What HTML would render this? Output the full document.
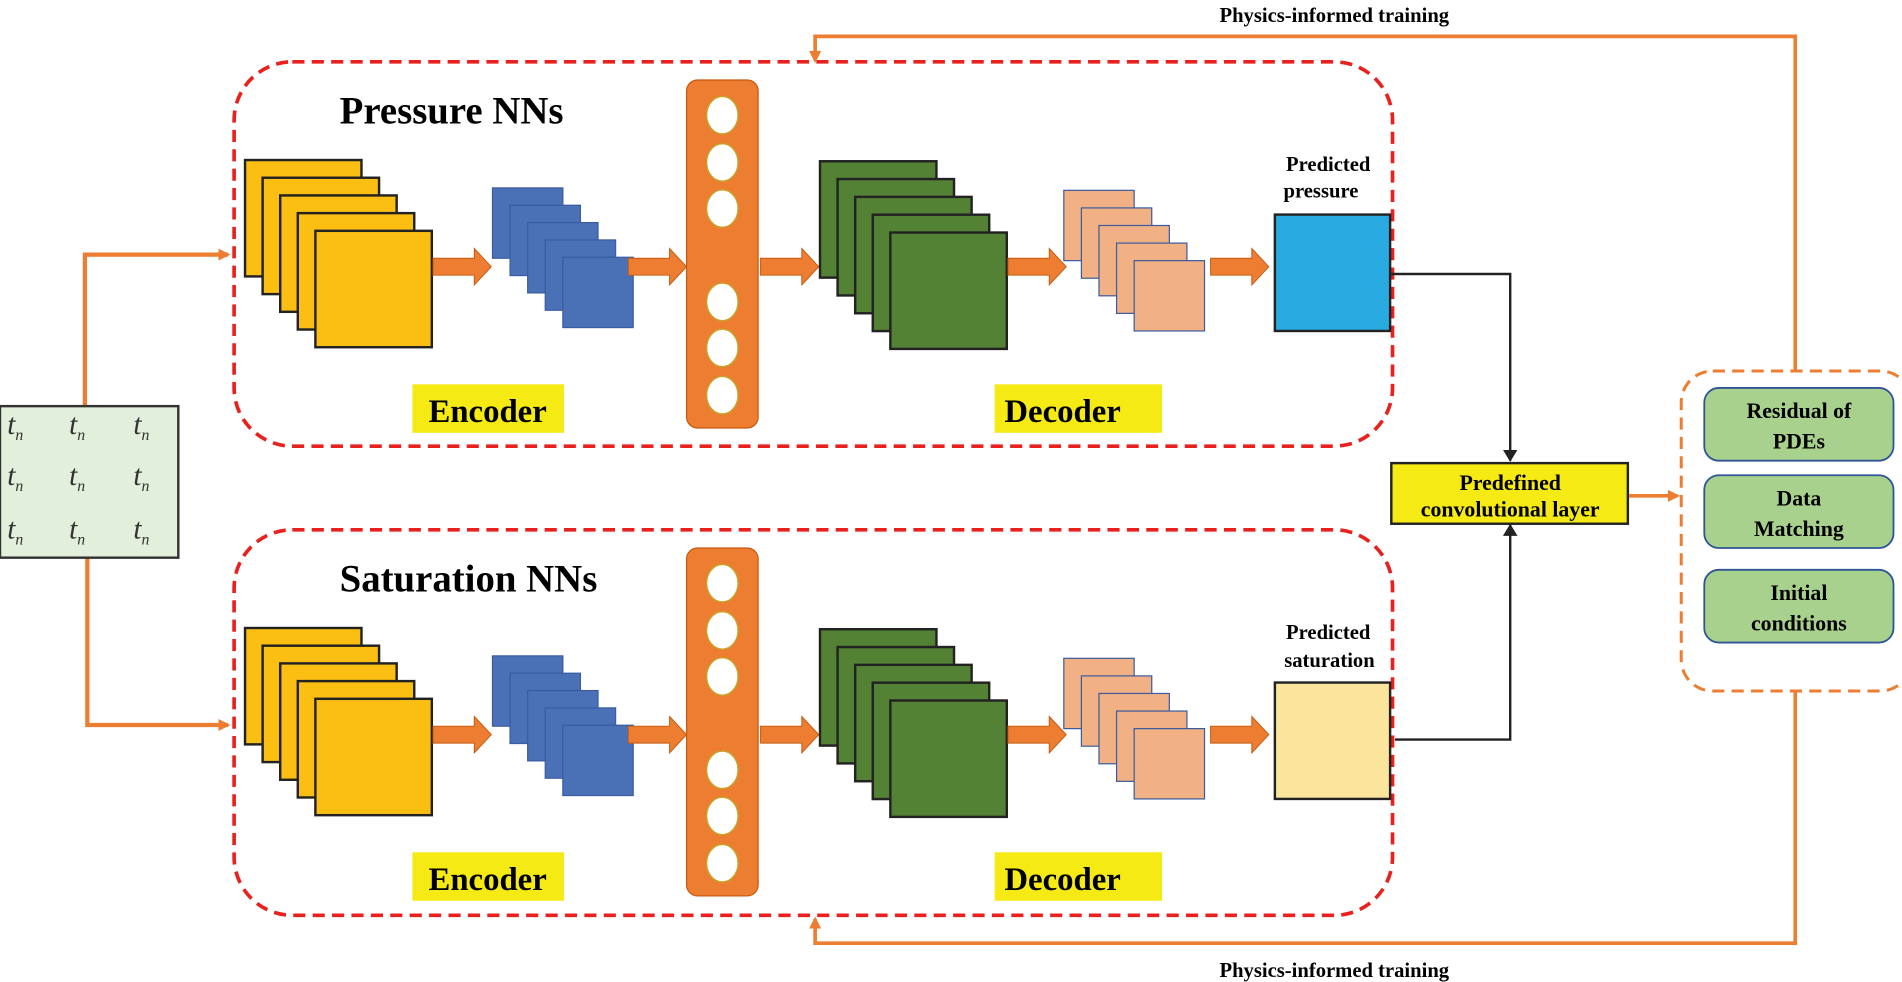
<!DOCTYPE html>
<html><head><meta charset="utf-8"><style>html,body{margin:0;padding:0;background:#fff;}svg{display:block}</style></head>
<body>
<svg width="1902" height="982" viewBox="0 0 1568 810" preserveAspectRatio="none" xmlns="http://www.w3.org/2000/svg" font-family="Liberation Serif, serif" font-weight="bold">
<defs>
  <g id="barrow"><path d="M0,-7 H34 V-15 L48,0 L34,15 V7 H0 Z" fill="#ed7d31" stroke="#c55a11" stroke-width="0.8"/></g>
  <marker id="ah" markerWidth="10" markerHeight="10" refX="8" refY="5" orient="auto" markerUnits="userSpaceOnUse"><path d="M0,0 L10,5 L0,10 Z" fill="#ed7d31"/></marker>
  <marker id="bh" markerWidth="10" markerHeight="12" refX="9" refY="6" orient="auto" markerUnits="userSpaceOnUse"><path d="M0,0 L10,6 L0,12 Z" fill="#222"/></marker>
  <g id="net">
    <rect x="202" y="132" width="96" height="96" fill="#fbbf14" stroke="#222" stroke-width="2"/>
    <rect x="216.5" y="146.6" width="96" height="96" fill="#fbbf14" stroke="#222" stroke-width="2"/>
    <rect x="231" y="161.2" width="96" height="96" fill="#fbbf14" stroke="#222" stroke-width="2"/>
    <rect x="245.5" y="175.8" width="96" height="96" fill="#fbbf14" stroke="#222" stroke-width="2"/>
    <rect x="260" y="190.4" width="96" height="96" fill="#fbbf14" stroke="#222" stroke-width="2"/>
    <use href="#barrow" x="357" y="220"/>
    <rect x="406" y="155" width="58" height="58" fill="#4a70b6" stroke="#3a5ca0" stroke-width="1"/>
    <rect x="420.5" y="169.3" width="58" height="58" fill="#4a70b6" stroke="#3a5ca0" stroke-width="1"/>
    <rect x="435" y="183.6" width="58" height="58" fill="#4a70b6" stroke="#3a5ca0" stroke-width="1"/>
    <rect x="449.5" y="197.9" width="58" height="58" fill="#4a70b6" stroke="#3a5ca0" stroke-width="1"/>
    <rect x="464" y="212.2" width="58" height="58" fill="#4a70b6" stroke="#3a5ca0" stroke-width="1"/>
    <use href="#barrow" x="518" y="220"/>
    <rect x="566" y="66" width="59" height="287" rx="9" fill="#ed7d31" stroke="#c55a11" stroke-width="1"/>
    <g fill="#fff" stroke="#c9a227" stroke-width="1.2">
      <ellipse cx="595.5" cy="95" rx="13" ry="15.5"/>
      <ellipse cx="595.5" cy="134" rx="13" ry="15.5"/>
      <ellipse cx="595.5" cy="172" rx="13" ry="15.5"/>
      <ellipse cx="595.5" cy="249" rx="13" ry="15.5"/>
      <ellipse cx="595.5" cy="287" rx="13" ry="15.5"/>
      <ellipse cx="595.5" cy="326" rx="13" ry="15.5"/>
    </g>
    <use href="#barrow" x="627" y="220"/>
    <rect x="676" y="133" width="96" height="96" fill="#548235" stroke="#222" stroke-width="2"/>
    <rect x="690.5" y="147.7" width="96" height="96" fill="#548235" stroke="#222" stroke-width="2"/>
    <rect x="705" y="162.4" width="96" height="96" fill="#548235" stroke="#222" stroke-width="2"/>
    <rect x="719.5" y="177.1" width="96" height="96" fill="#548235" stroke="#222" stroke-width="2"/>
    <rect x="734" y="191.8" width="96" height="96" fill="#548235" stroke="#222" stroke-width="2"/>
    <use href="#barrow" x="831" y="220"/>
    <rect x="877" y="157" width="58" height="58" fill="#f2b085" stroke="#3a5ca0" stroke-width="1"/>
    <rect x="891.5" y="171.5" width="58" height="58" fill="#f2b085" stroke="#3a5ca0" stroke-width="1"/>
    <rect x="906" y="186" width="58" height="58" fill="#f2b085" stroke="#3a5ca0" stroke-width="1"/>
    <rect x="920.5" y="200.5" width="58" height="58" fill="#f2b085" stroke="#3a5ca0" stroke-width="1"/>
    <rect x="935" y="215" width="58" height="58" fill="#f2b085" stroke="#3a5ca0" stroke-width="1"/>
    <use href="#barrow" x="998" y="220"/>
    <rect x="340" y="317" width="125" height="40" fill="#f5ea14"/>
    <text x="402" y="348" text-anchor="middle" font-size="27">Encoder</text>
    <rect x="820" y="317" width="138" height="40" fill="#f5ea14"/>
    <text x="876" y="348" text-anchor="middle" font-size="27">Decoder</text>
  </g>
</defs>

<rect x="193" y="51" width="955" height="317" rx="48" fill="none" stroke="#e8201e" stroke-width="3" stroke-dasharray="10 6"/>
<rect x="193" y="437" width="955" height="318" rx="48" fill="none" stroke="#e8201e" stroke-width="3" stroke-dasharray="10 6"/>

<use href="#net"/>
<use href="#net" y="386"/>

<text x="280" y="102" font-size="32">Pressure NNs</text>
<text x="280" y="488" font-size="32">Saturation NNs</text>

<rect x="1051" y="177" width="95" height="96" fill="#29abe2" stroke="#222" stroke-width="2"/>
<text x="1095" y="141" text-anchor="middle" font-size="17">Predicted</text>
<text x="1089" y="163" text-anchor="middle" font-size="17">pressure</text>
<rect x="1051" y="563" width="95" height="96" fill="#fbe49b" stroke="#222" stroke-width="2"/>
<text x="1095" y="527" text-anchor="middle" font-size="17">Predicted</text>
<text x="1096" y="550" text-anchor="middle" font-size="17">saturation</text>

<path d="M1147,226 H1245 V380" fill="none" stroke="#222" stroke-width="2" marker-end="url(#bh)"/>
<path d="M1150,610 H1245 V433" fill="none" stroke="#222" stroke-width="2" marker-end="url(#bh)"/>

<rect x="1147" y="382" width="195" height="50" fill="#f5ea14" stroke="#222" stroke-width="2"/>
<text x="1245" y="404" text-anchor="middle" font-size="18">Predefined</text>
<text x="1245" y="426" text-anchor="middle" font-size="18">convolutional layer</text>
<path d="M1343,409 H1383" stroke="#ed7d31" stroke-width="3" marker-end="url(#ah)"/>

<rect x="1386" y="306" width="190" height="264" rx="26" fill="none" stroke="#ed7d31" stroke-width="2.5" stroke-dasharray="10 6"/>
<g fill="#a9d18e" stroke="#2f5597" stroke-width="1.5">
  <rect x="1405" y="320" width="156" height="60" rx="12"/>
  <rect x="1405" y="392" width="156" height="60" rx="12"/>
  <rect x="1405" y="470" width="156" height="60" rx="12"/>
</g>
<g font-size="18" text-anchor="middle">
  <text x="1483" y="345">Residual of</text>
  <text x="1483" y="370">PDEs</text>
  <text x="1483" y="417">Data</text>
  <text x="1483" y="442">Matching</text>
  <text x="1483" y="495">Initial</text>
  <text x="1483" y="520">conditions</text>
</g>

<path d="M1480,306 V30 H672 V50" fill="none" stroke="#ed7d31" stroke-width="3" marker-end="url(#ah)"/>
<path d="M1480,570 V778 H672 V758" fill="none" stroke="#ed7d31" stroke-width="3" marker-end="url(#ah)"/>
<text x="1100" y="18" text-anchor="middle" font-size="17">Physics-informed training</text>
<text x="1100" y="806" text-anchor="middle" font-size="17">Physics-informed training</text>

<path d="M70,335 V210 H188" fill="none" stroke="#ed7d31" stroke-width="3.5" marker-end="url(#ah)"/>
<path d="M72,460 V598 H188" fill="none" stroke="#ed7d31" stroke-width="3.5" marker-end="url(#ah)"/>
<rect x="0" y="335" width="147" height="125" fill="#e2efda" stroke="#333" stroke-width="2"/>
<g font-style="italic" font-weight="normal" font-size="24" fill="#333">
  <text x="6" y="358">t<tspan font-size="13" dy="5">n</tspan></text>
  <text x="57" y="358">t<tspan font-size="13" dy="5">n</tspan></text>
  <text x="110" y="358">t<tspan font-size="13" dy="5">n</tspan></text>
  <text x="6" y="400">t<tspan font-size="13" dy="5">n</tspan></text>
  <text x="57" y="400">t<tspan font-size="13" dy="5">n</tspan></text>
  <text x="110" y="400">t<tspan font-size="13" dy="5">n</tspan></text>
  <text x="6" y="444">t<tspan font-size="13" dy="5">n</tspan></text>
  <text x="57" y="444">t<tspan font-size="13" dy="5">n</tspan></text>
  <text x="110" y="444">t<tspan font-size="13" dy="5">n</tspan></text>
</g>
</svg>
</body></html>
